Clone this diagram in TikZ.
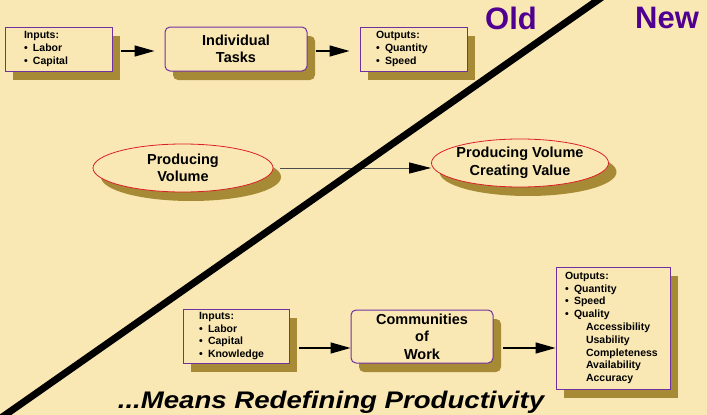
\documentclass[tikz,border=0pt]{standalone}
\usepackage{fontspec}
\setmainfont{Liberation Sans}
\usetikzlibrary{arrows.meta,shapes.geometric,shadows}
\definecolor{paper}{RGB}{250,232,180}
\definecolor{shade}{RGB}{166,138,54}
\definecolor{frame}{RGB}{112,48,160}
\definecolor{heading}{RGB}{80,0,144}
\definecolor{ovalline}{RGB}{220,30,40}
\newcommand{\itm}{\makebox[9pt][l]{\textbullet}}
\newcommand{\sub}{\hspace*{21pt}}

\begin{document}
\begin{tikzpicture}[x=1pt,y=-1pt,
	shadowed/.style={drop shadow={shadow xshift=8pt,shadow yshift=-9pt,fill=shade,opacity=1}},
	box/.style={rectangle,draw=frame,fill=paper,line width=1pt,shadowed,inner ysep=2pt,
		align=left,font=\bfseries\fontsize{10.5}{12.8}\selectfont},
	rbox/.style={rectangle,rounded corners=5pt,draw=frame,fill=paper,line width=1pt,shadowed,
		inner sep=0pt,align=center,font=\bfseries\fontsize{14.5}{17.5}\selectfont},
	oval/.style={ellipse,draw=ovalline,fill=paper,line width=0.8pt,shadowed,
		inner xsep=-20pt,inner ysep=-4pt,align=center,font=\bfseries\fontsize{14.5}{17.5}\selectfont},
	heading/.style={text=heading,font=\bfseries\fontsize{31}{36}\selectfont},
	link/.style={-{Triangle[length=20pt,width=11pt]},line width=1.3pt}
	]
	\useasboundingbox[fill=paper] (0,0) rectangle (707,415);

	% old way
	\node[box,text width=69pt,inner xsep=19pt,minimum height=44pt] (in1) at (58.5,49) {Inputs:\\\itm Labor\\\itm Capital};
	\node[rbox,minimum width=142pt,minimum height=44pt] (task) at (236,49) {Individual\\Tasks};
	\node[box,text width=75pt,inner xsep=16pt,minimum height=44pt] (out1) at (413.5,49) {Outputs:\\\itm Quantity\\\itm Speed};

	\draw[link,shorten <=8pt,shorten >=10pt] ([yshift=-2pt]in1.east) -- ([yshift=-2pt]task.west);
	\draw[link,shorten <=8pt,shorten >=10pt] ([yshift=-2pt]task.east) -- ([yshift=-2pt]out1.west);

	\node[heading] (old) at (511,18) {Old};
	\node[heading] (new) at (667,18) {New};

	% volume vs value
	\node[oval,minimum width=180pt,minimum height=48pt] (vol) at (183,168) {Producing\\Volume};
	\node[oval,minimum width=177pt,minimum height=48pt] (val) at (520,163) {Producing Volume\\Creating Value};
	\draw[-{Triangle[length=22pt,width=11pt,color=black]},draw=black!70,line width=1pt,shorten <=7pt] (vol.east) -- (vol.east -| val.west);

	% new way
	\node[box,text width=74pt,inner xsep=16pt,minimum height=54pt] (in2) at (236,336) {Inputs:\\\itm Labor\\\itm Capital\\\itm Knowledge};
	\node[rbox,minimum width=142pt,minimum height=53pt] (work) at (422,336.5) {Communities\\of\\Work};
	\node[box,text width=96pt,inner xsep=9pt,minimum height=122pt] (out2) at (613,328) {Outputs:\\\itm Quantity\\\itm Speed\\\itm Quality\\\sub Accessibility\\\sub Usability\\\sub Completeness\\\sub Availability\\\sub Accuracy};

	\coordinate (lnk1) at ([yshift=-12pt]in2.east);
	\coordinate (lnk2) at ([yshift=-11.5pt]work.east);
	\draw[link,shorten <=9pt] (lnk1) -- (lnk1 -| work.west);
	\draw[link,shorten <=9pt] (lnk2) -- (lnk2 -| out2.west);

	% divider
	\draw[line width=7pt] (605,-5) -- (-2,420);

	\node[anchor=base,xscale=1.15,font=\bfseries\itshape\fontsize{24}{28}\selectfont] (motto) at (331,408) {...Means Redefining Productivity};
\end{tikzpicture}
\end{document}
